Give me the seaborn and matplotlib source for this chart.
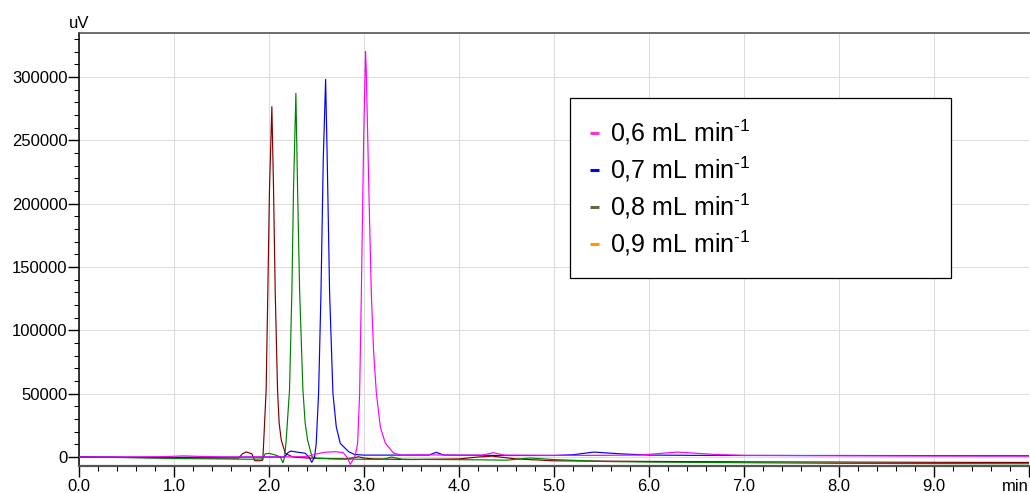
import numpy as np
import pandas as pd
import matplotlib
matplotlib.use("Agg")
import matplotlib.pyplot as plt
from matplotlib.lines import Line2D
from matplotlib.ticker import MultipleLocator
import seaborn as sns

# ---------------- data ----------------
legend_labels = [r"0,6 mL min$^{\text{-}1}$", r"0,7 mL min$^{\text{-}1}$",
                 r"0,8 mL min$^{\text{-}1}$", r"0,9 mL min$^{\text{-}1}$"]
legend_colors = ["#ff33cc", "#0000ff", "#666645", "#ff9900"]
trace_colors = ["#ff00ff", "#0000ff", "#008000", "#800000"]

# 0,6 mL/min (magenta)
t_06 = [0.0, 0.5, 0.9, 1.1, 1.3, 1.6, 2.0, 2.4, 2.5, 2.6, 2.7, 2.78, 2.82, 2.855, 2.89,
        2.91, 2.933, 2.954, 2.972, 2.996, 3.016, 3.024, 3.052, 3.077, 3.10, 3.13, 3.172, 3.224, 3.312, 3.4,
        3.6, 4.0, 4.25, 4.36, 4.48, 5.0, 5.5, 5.9, 6.3, 6.7, 7.0, 8.0, 9.0, 10.0]
y_06 = [0, 0, 300, 900, 400, 0, 0, 300, 2500, 3800, 4200, 3500, 0, -5800, -1500,
        2000, 10800, 50300, 129000, 250000, 320000, 305000, 208000, 129000, 85000, 50500, 23700, 11000, 3000, 1500,
        1700, 1500, 1500, 3400, 1500, 1300, 1300, 1500, 3900, 2000, 1300, 1000, 800, 700]

# 0,7 mL/min (blue)
t_07 = [0.0, 1.0, 2.0, 2.15, 2.17, 2.20, 2.23, 2.30, 2.38, 2.42, 2.45, 2.48,
        2.497, 2.522, 2.547, 2.571, 2.596, 2.613, 2.638, 2.673, 2.708, 2.75, 2.838, 2.9,
        3.0, 3.5, 3.68, 3.76, 3.84, 4.5, 5.0, 5.2, 5.42, 5.7, 6.0, 6.5, 7.0, 8.0, 9.0, 10.0]
y_07 = [0, -300, 0, 0, 500, 3500, 4700, 3800, 3000, 0, -4200, 0,
        10800, 50300, 129200, 234500, 298200, 234500, 129200, 50300, 23900, 10800, 4200, 2000,
        1500, 1500, 1500, 3700, 1500, 1200, 1200, 1800, 3900, 2500, 1500, 1300, 1200, 1200, 1100, 1000]

# 0,8 mL/min (green)
t_08 = [0.0, 0.5, 1.0, 1.5, 1.8, 1.93, 1.96, 2.0, 2.07, 2.12, 2.146, 2.165,
        2.181, 2.216, 2.241, 2.258, 2.283, 2.301, 2.322, 2.357, 2.381, 2.406, 2.452, 2.5,
        2.7, 3.0, 3.2, 3.29, 3.4, 3.8, 4.2, 4.5, 4.75, 5.0, 5.5, 6.0, 7.0, 8.0, 9.0, 10.0]
y_08 = [0, -500, -1200, -1500, -1800, -1500, 2500, 2900, 1500, 0, -4500, 0,
        13400, 52900, 131800, 210800, 287100, 210800, 131800, 52900, 26600, 13400, 300, -1000,
        -1500, -1800, -1800, 0, -1800, -2000, -2200, -2500, -800, -2000, -3500, -4000, -4500, -5000, -5200, -5300]

# 0,9 mL/min (dark red)
t_09 = [0.0, 0.5, 1.0, 1.5, 1.68, 1.72, 1.76, 1.82, 1.85, 1.9, 1.935,
        1.97, 1.988, 2.005, 2.03, 2.048, 2.065, 2.09, 2.107, 2.129, 2.171, 2.25, 2.4,
        2.5, 2.8, 2.9, 2.94, 3.0, 3.1, 3.5, 4.0, 4.2, 4.35, 4.6, 5.0, 6.0, 7.0, 8.0, 9.0, 10.0]
y_09 = [0, -300, -500, -800, -800, 2500, 4000, 2500, -2900, -3000, -2400,
        52900, 131800, 210800, 276600, 210800, 131800, 52900, 26600, 13400, 2900, 0, -800,
        -1000, -1500, -500, 200, -800, -1500, -2000, -1500, 0, 700, -1500, -3000, -3500, -3800, -4000, -4200, -4300]

x_ticks = [0, 1, 2, 3, 4, 5, 6, 7, 8, 9, 10]
x_tick_labels = ["0.0", "1.0", "2.0", "3.0", "4.0", "5.0", "6.0", "7.0", "8.0", "9.0", "min"]
y_ticks = [0, 50000, 100000, 150000, 200000, 250000, 300000]
y_tick_labels = ["0", "50000", "100000", "150000", "200000", "250000", "300000"]

# ---------------- style ----------------
sns.set_style("white")
plt.rcParams["font.family"] = ["Liberation Sans", "DejaVu Sans"]
plt.rcParams["mathtext.fontset"] = "custom"
plt.rcParams["mathtext.rm"] = "Liberation Sans"
plt.rcParams["mathtext.it"] = "Liberation Sans"
plt.rcParams["mathtext.default"] = "regular"
plt.rcParams["text.color"] = "black"

fig = plt.figure(figsize=(10.30, 4.93), dpi=100)
ax = fig.add_axes([79 / 1030, 1 - 466 / 493, 950 / 1030, 433 / 493])

series = [(t_09, y_09, 3), (t_08, y_08, 2), (t_07, y_07, 1), (t_06, y_06, 0)]
for t, y, idx in series:
    df = pd.DataFrame({"t": t, "uV": y})
    sns.lineplot(data=df, x="t", y="uV", ax=ax, color=trace_colors[idx],
                 linewidth=0.85, estimator=None, sort=False, zorder=3 + (3 - idx))

ax.set_xlim(0, 10)
ax.set_ylim(-7100, 334750)
ax.set_xlabel("")
ax.set_ylabel("")

ax.set_xticks(x_ticks)
ax.set_xticklabels(x_tick_labels, fontsize=12)
ax.get_xticklabels()[-1].set_horizontalalignment("right")
ax.set_yticks(y_ticks)
ax.set_yticklabels(y_tick_labels, fontsize=12)
ax.xaxis.set_minor_locator(MultipleLocator(0.2))
ax.yaxis.set_minor_locator(MultipleLocator(10000))

ax.tick_params(axis="both", which="major", direction="out", length=7.9, width=1.0,
               color="black", labelcolor="black")
ax.tick_params(axis="both", which="minor", direction="out", length=3.6, width=0.75, color="black")
ax.tick_params(axis="x", which="major", pad=1.2)
ax.tick_params(axis="y", which="major", pad=0.5)
ax.tick_params(axis="both", which="both", bottom=True, left=True, top=False, right=False)

ax.grid(True, which="major", color="#dddddd", linewidth=0.75)
ax.set_axisbelow(True)

ax.spines["left"].set_color("black")
ax.spines["left"].set_linewidth(1.1)
ax.spines["bottom"].set_color("#555555")
ax.spines["bottom"].set_linewidth(1.6)
ax.spines["top"].set_color("#444444")
ax.spines["top"].set_linewidth(1.1)
ax.spines["right"].set_visible(False)

ax.text(0.0, 1.004, "uV", transform=ax.transAxes, ha="center", va="bottom", fontsize=12, color="black")

handles = [Line2D([0], [0], color=c, linewidth=2.2, solid_capstyle="butt") for c in legend_colors]
leg = ax.legend(handles, legend_labels, loc="upper left",
                bbox_to_anchor=(0.5168, 0.4365, 0.4011, 0.4135), mode="expand",
                fontsize=18, frameon=True, fancybox=False, shadow=False, framealpha=1,
                edgecolor="black", borderpad=0.8, labelspacing=0.3,
                handlelength=0.35, handletextpad=0.45, borderaxespad=0, labelcolor="black")
leg.get_frame().set_linewidth(0.9)

fig.savefig("out.png", dpi=100)
